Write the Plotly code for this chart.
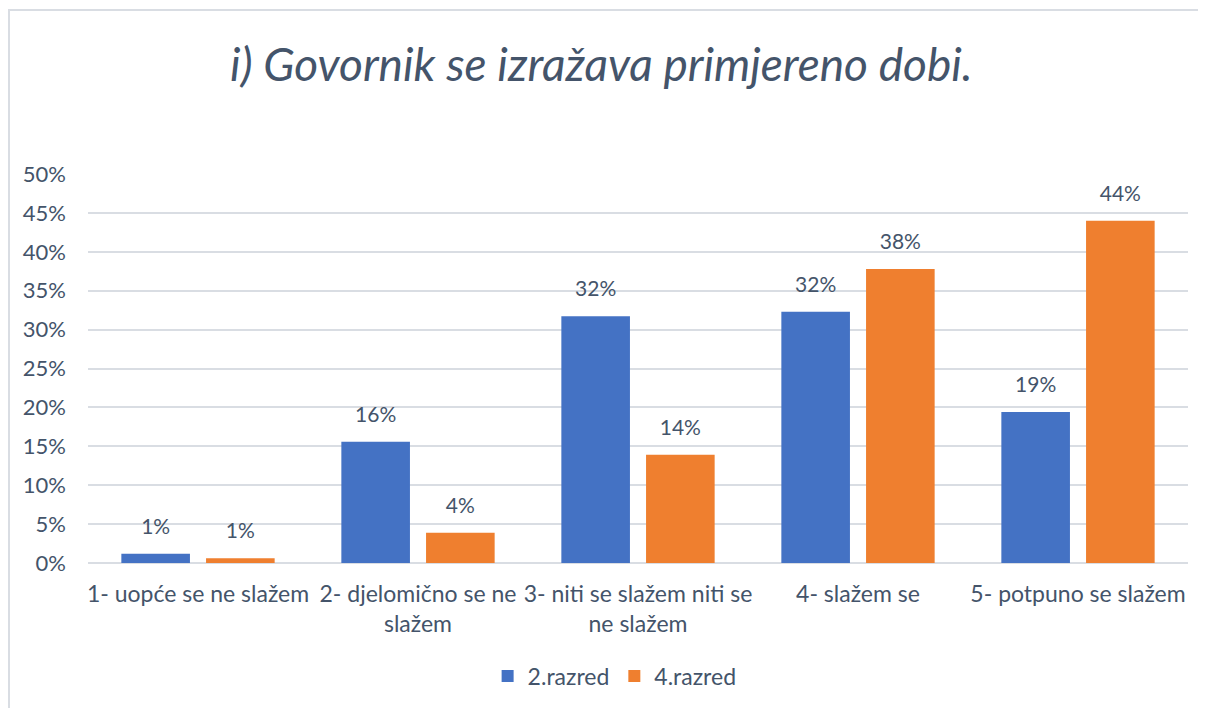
"""Bar chart: i) Govornik se izražava primjereno dobi."""
import plotly.graph_objects as go

categories = [
    "1- uopće se ne slažem",
    "2- djelomično se ne<br>slažem",
    "3- niti se slažem niti se<br>ne slažem",
    "4- slažem se",
    "5- potpuno se slažem",
]
razred_2 = [0.012, 0.156, 0.317, 0.323, 0.194]
razred_4 = [0.006, 0.039, 0.139, 0.378, 0.440]

TEXT = "#44546A"
FONT = "Lato"
series = [("2.razred", razred_2, "#4472C4"), ("4.razred", razred_4, "#EF7F2F")]

fig = go.Figure()
for name, vals, color in series:
    fig.add_trace(go.Bar(
        x=categories, y=vals, name=name, offsetgroup=name,
        marker=dict(color=color, line=dict(width=0)),
    ))
# data labels, lifted above the bars by an invisible marker
for name, vals, color in series:
    fig.add_trace(go.Scatter(
        x=categories, y=vals, offsetgroup=name, mode="markers+text",
        marker=dict(size=22, opacity=0), texttemplate="%{y:.0%}",
        textposition="top center", textfont=dict(size=21, color=TEXT),
        showlegend=False, hoverinfo="skip", cliponaxis=False,
    ))

# light frame around the chart
fig.add_shape(type="rect", xref="paper", yref="paper",
              x0=-0.0718, x1=1.3, y0=-0.5, y1=1.4216,
              line=dict(color="#D9DDE3", width=2), layer="below")

fig.update_layout(
    width=1206, height=708,
    margin=dict(l=80, r=26, t=166, b=153),
    paper_bgcolor="white", plot_bgcolor="white",
    font=dict(family=FONT, color=TEXT, size=20),
    title=dict(text="<i>i) Govornik se izražava primjereno dobi.</i>",
               x=0.492, xanchor="center", y=0.92, yanchor="middle",
               yref="container", font=dict(size=46, color=TEXT, family=FONT)),
    barmode="group", bargap=0.23, bargroupgap=0.19,
    scattermode="group", scattergap=0.23,
    showlegend=True,
    legend=dict(orientation="h", x=0.503, xanchor="center", xref="container",
                y=0.0565, yanchor="middle", yref="container",
                font=dict(size=23, color=TEXT), itemwidth=30),
    xaxis=dict(showgrid=False, tickfont=dict(size=23, color=TEXT),
               ticklabelstandoff=15, showline=False),
    yaxis=dict(range=[0, 0.5], dtick=0.05, tickformat=".0%",
               gridcolor="#D9DDE3", gridwidth=2, zeroline=True,
               zerolinecolor="#D9DDE3", zerolinewidth=2,
               tickfont=dict(size=22, color=TEXT), ticklabelstandoff=21),
)

fig.write_html("out.html")
